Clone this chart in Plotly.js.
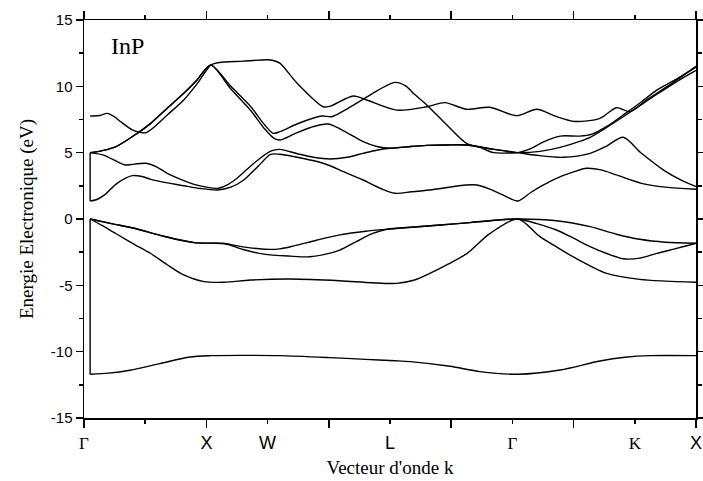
<!DOCTYPE html>
<html>
<head>
<meta charset="utf-8">
<script src="https://cdn.plot.ly/plotly-3.0.1.min.js"></script>
<style>html,body{margin:0;padding:0;background:#fff;}</style>
</head>
<body>
<div id="chart" style="width:703px;height:481px;"></div>
<script>
// ---- Band data (k along path, energy in eV) ----
const band1K = [0.10, 0.40, 0.75, 1.24, 1.73, 2.07, 2.60, 3.20, 4.02, 4.60, 5.08, 5.33, 5.98, 6.47, 7.09, 7.78, 8.43, 8.84, 9.25, 10.0];
const band1E = [-11.7, -11.62, -11.4, -10.9, -10.4, -10.3, -10.28, -10.3, -10.45, -10.58, -10.68, -10.75, -11.1, -11.5, -11.7, -11.38, -10.7, -10.42, -10.3, -10.3];

const band2K = [0.10, 0.30, 0.54, 0.80, 1.09, 1.36, 1.63, 1.96, 2.29, 2.72, 3.37, 4.18, 4.70, 5.11, 5.40, 5.65, 5.95, 6.26, 6.63, 7.09, 7.45, 7.72, 7.99, 8.54, 9.08, 9.50, 10.0];
const band2E = [0, -0.5, -1.15, -1.85, -2.6, -3.45, -4.22, -4.72, -4.77, -4.6, -4.52, -4.65, -4.8, -4.85, -4.6, -4.1, -3.4, -2.59, -1.1, 0, -1.33, -2.1, -2.84, -4.1, -4.55, -4.68, -4.77];

const band3K = [0.10, 0.45, 0.82, 1.30, 1.80, 2.07, 2.29, 2.60, 2.94, 3.20, 3.43, 3.80, 4.18, 4.60, 5.00, 5.40, 5.82, 6.30, 6.63, 7.09, 7.72, 8.27, 8.70, 9.08, 9.50, 10.0];
const band3E = [0, -0.35, -0.7, -1.3, -1.78, -1.82, -1.85, -2.1, -2.28, -2.25, -2.03, -1.6, -1.2, -0.92, -0.75, -0.6, -0.45, -0.27, -0.13, 0, -0.13, -0.58, -1.15, -1.53, -1.75, -1.83];

const band4K = [0.10, 0.45, 0.82, 1.30, 1.80, 2.07, 2.29, 2.60, 2.94, 3.37, 3.69, 3.95, 4.18, 4.45, 4.72, 4.95, 5.40, 5.82, 6.30, 6.63, 7.09, 7.40, 7.72, 8.00, 8.27, 8.54, 8.81, 9.08, 9.36, 9.70, 10.0];
const band4E = [0, -0.35, -0.7, -1.3, -1.78, -1.82, -1.85, -2.3, -2.65, -2.8, -2.85, -2.65, -2.34, -1.7, -1.08, -0.77, -0.6, -0.45, -0.27, -0.13, 0, -0.35, -0.83, -1.45, -2.08, -2.6, -3.0, -2.95, -2.59, -2.2, -1.83];

const band5K = [0.10, 0.20, 0.33, 0.54, 0.79, 0.95, 1.09, 1.36, 1.63, 1.90, 2.18, 2.40, 2.61, 2.85, 3.05, 3.20, 3.43, 3.91, 4.25, 4.56, 4.85, 5.08, 5.35, 5.65, 6.25, 6.42, 6.63, 6.85, 7.09, 7.30, 7.50, 7.72, 8.00, 8.21, 8.45, 8.70, 9.11, 9.50, 10.0];
const band5E = [1.36, 1.45, 1.8, 2.69, 3.27, 3.2, 2.99, 2.72, 2.51, 2.3, 2.19, 2.4, 2.94, 4.0, 4.87, 4.88, 4.7, 4.2, 3.55, 2.94, 2.3, 1.94, 2.05, 2.19, 2.56, 2.56, 2.25, 1.8, 1.36, 2.0, 2.55, 3.07, 3.55, 3.82, 3.7, 3.32, 2.69, 2.4, 2.24];

const band6K = [0.10, 0.33, 0.55, 0.68, 0.82, 1.01, 1.20, 1.36, 1.60, 1.80, 2.00, 2.18, 2.35, 2.50, 2.80, 3.05, 3.20, 3.50, 3.75, 4.02, 4.30, 4.56, 4.80, 5.00, 5.30, 5.60, 5.93, 6.25, 6.63, 6.85, 7.09, 7.40, 7.83, 8.27, 8.54, 8.81, 9.11, 9.47, 9.75, 10.0];
const band6E = [5.0, 4.8, 4.3, 4.07, 4.14, 4.2, 3.9, 3.44, 2.95, 2.61, 2.4, 2.31, 2.6, 3.07, 4.3, 5.12, 5.25, 4.9, 4.65, 4.52, 4.65, 4.95, 5.2, 5.33, 5.45, 5.55, 5.58, 5.58, 5.3, 5.15, 5.0, 4.8, 4.65, 4.95, 5.5, 6.16, 4.95, 3.69, 2.95, 2.44];

const band7K = [0.10, 0.30, 0.54, 0.87, 1.09, 1.36, 1.63, 1.85, 2.07, 2.40, 2.72, 2.95, 3.10, 3.20, 3.43, 3.70, 3.99, 4.30, 4.56, 4.80, 5.00, 5.30, 5.60, 5.93, 6.25, 6.63, 6.85, 7.09, 7.45, 7.78, 8.10, 8.27, 8.54, 8.81, 9.36, 9.70, 10.0];
const band7E = [5.0, 5.15, 5.5, 6.46, 7.21, 8.35, 9.47, 10.5, 11.6, 9.8, 8.2, 6.8, 6.1, 5.95, 6.4, 6.9, 7.16, 6.5, 5.83, 5.45, 5.33, 5.45, 5.55, 5.58, 5.58, 5.3, 5.15, 5.0, 5.1, 5.4, 5.85, 6.16, 6.9, 7.71, 9.4, 10.4, 11.2];

const band8K = [0.10, 0.30, 0.54, 0.87, 1.09, 1.36, 1.63, 1.85, 2.07, 2.40, 2.72, 2.95, 3.09, 3.20, 3.50, 3.88, 4.05, 4.30, 4.56, 4.80, 5.08, 5.25, 5.40, 5.60, 5.93, 6.25, 6.47, 6.69, 6.90, 7.09, 7.30, 7.50, 7.78, 8.10, 8.30, 8.55, 8.81, 9.10, 9.36, 9.70, 10.0];
const band8E = [5.0, 5.15, 5.5, 6.46, 7.21, 8.35, 9.47, 10.5, 11.6, 10.0, 8.5, 7.1, 6.46, 6.58, 7.2, 7.76, 7.71, 8.3, 9.02, 9.7, 10.3, 10.05, 9.4, 8.6, 7.08, 5.7, 5.4, 5.0, 4.97, 5.0, 5.3, 5.8, 6.25, 6.25, 6.4, 7.0, 7.84, 8.8, 9.72, 10.6, 11.45];

const band9K = [0.10, 0.25, 0.38, 0.50, 0.60, 0.79, 0.90, 1.01, 1.12, 1.36, 1.63, 1.85, 2.07, 2.18, 2.60, 3.00, 3.09, 3.20, 3.48, 3.91, 4.02, 4.40, 4.62, 5.11, 5.60, 5.90, 6.25, 6.63, 7.07, 7.40, 7.70, 8.02, 8.43, 8.70, 8.92, 9.19, 9.60, 10.0];
const band9E = [7.76, 7.8, 7.96, 7.7, 7.33, 6.71, 6.55, 6.5, 6.83, 7.84, 8.97, 10.2, 11.6, 11.78, 11.9, 12.0, 11.95, 11.75, 10.25, 8.46, 8.5, 9.27, 8.97, 8.21, 8.46, 8.77, 8.27, 8.42, 7.79, 8.27, 7.75, 7.35, 7.59, 8.39, 8.09, 8.97, 10.2, 11.5];

// vertical joins drawn at the first Γ point
const joinK = [0.10, 0.10];
const joinLowE = [-11.7, 0];
const joinHighE = [1.36, 5.0];

// axis labels
const majorTickK = [0, 2, 4, 6, 8, 10];
const majorTickText = ['<span style="font-family:\'Liberation Serif\';font-size:17px">Γ</span>', 'X', '', '', '', 'X'];
const minorTickK = [1, 3, 5, 7, 9];
const pointK = [3, 5, 7, 9];
const pointText = ['W', 'L', '<span style="font-family:\'Liberation Serif\';font-size:17px">Γ</span>', '<span style="font-family:\'Liberation Serif\';font-size:17px">K</span>'];
const yTicks = [-15, -10, -5, 0, 5, 10, 15];
const yTickText = ['-15', '-10', '-5', '0', '5', '10', '15'];

const bands = [
  [band1K, band1E], [band2K, band2E], [band3K, band3E], [band4K, band4E],
  [band5K, band5E], [band6K, band6E], [band7K, band7E], [band8K, band8E], [band9K, band9E]
];

const lineStyle = {color: '#000', width: 1.4, shape: 'spline', smoothing: 0.8};
const traces = bands.map(b => ({
  x: b[0], y: b[1], type: 'scatter', mode: 'lines', line: lineStyle, hoverinfo: 'skip'
}));
traces.push({x: joinK, y: joinLowE, type: 'scatter', mode: 'lines', xaxis: 'x2', line: {color: '#000', width: 1.4}, hoverinfo: 'skip'});
traces.push({x: joinK, y: joinHighE, type: 'scatter', mode: 'lines', xaxis: 'x2', line: {color: '#000', width: 1.4}, hoverinfo: 'skip'});

const sans = 'Liberation Sans, Arial, sans-serif';
const serif = 'Liberation Serif, Times New Roman, serif';

const layout = {
  width: 703, height: 481,
  margin: {l: 84, r: 7, t: 20, b: 63},
  paper_bgcolor: '#fff', plot_bgcolor: '#fff',
  showlegend: false,
  xaxis: {
    range: [0, 10], tickmode: 'array', tickvals: majorTickK, ticktext: majorTickText,
    ticks: 'outside', ticklen: 8, tickwidth: 1.5, tickcolor: '#000',
    minor: {tickmode: 'array', tickvals: minorTickK, ticks: 'outside', ticklen: 4, tickwidth: 1.5, tickcolor: '#000'},
    showline: true, linewidth: 1.5, linecolor: '#000', mirror: 'ticks',
    showgrid: false, zeroline: false,
    tickfont: {family: sans, size: 18, color: '#000'},
    title: {text: "Vecteur d'onde k", font: {family: serif, size: 19, color: '#000'}, standoff: 8}
  },
  xaxis2: {
    overlaying: 'x', anchor: 'y', side: 'bottom', range: [0, 10],
    tickmode: 'array', tickvals: pointK, ticktext: pointText,
    ticks: 'outside', ticklen: 8, tickcolor: 'rgba(0,0,0,0)',
    showline: false, showgrid: false, zeroline: false,
    tickfont: {family: sans, size: 18, color: '#000'}
  },
  yaxis: {
    range: [-15, 15], tickmode: 'array', tickvals: yTicks, ticktext: yTickText,
    ticks: 'outside', ticklen: 7, tickwidth: 1.5, tickcolor: '#000',
    minor: {dtick: 2.5, tick0: -15, ticks: 'outside', ticklen: 4, tickwidth: 1.5, tickcolor: '#000'},
    showline: true, linewidth: 1.5, linecolor: '#000', mirror: 'ticks',
    showgrid: false, zeroline: false,
    tickfont: {family: sans, size: 15, color: '#000'},
    title: {text: 'Energie Electronique (eV)', font: {family: serif, size: 19, color: '#000'}, standoff: 12}
  },
  annotations: [{
    text: 'InP', xref: 'paper', yref: 'paper', x: 0.041, y: 0.935,
    xanchor: 'left', yanchor: 'middle', showarrow: false,
    font: {family: serif, size: 24, color: '#000'}
  }]
};

Plotly.newPlot('chart', traces, layout, {displayModeBar: false, staticPlot: true});
</script>
</body>
</html>
